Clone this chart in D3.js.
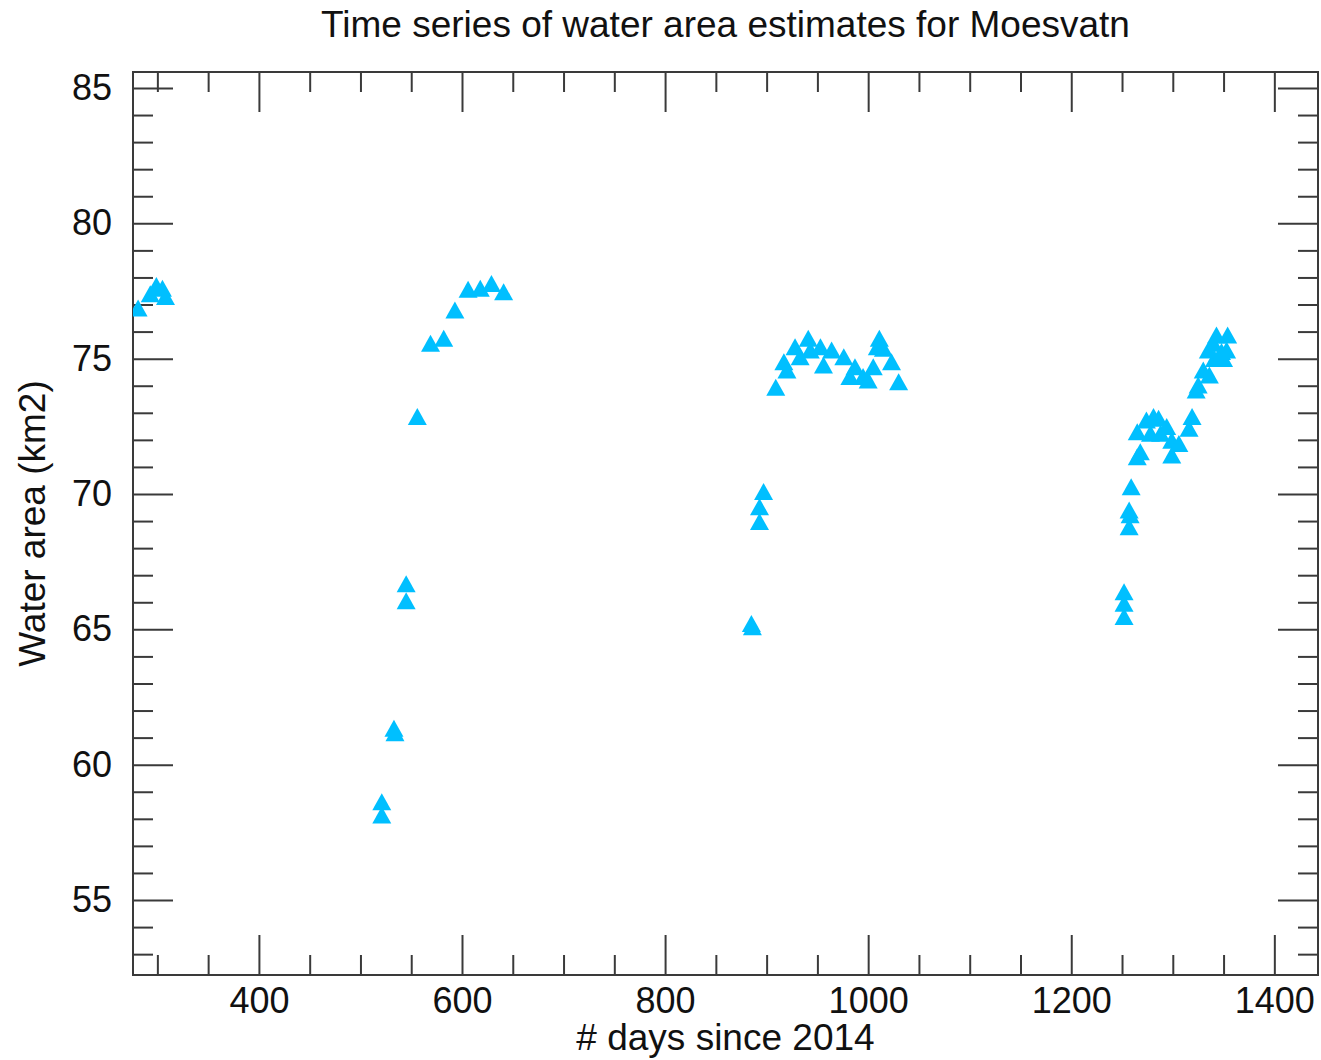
<!DOCTYPE html>
<html>
<head>
<meta charset="utf-8">
<script src="https://cdn.jsdelivr.net/npm/d3@7"></script>
<style>
  body { margin: 0; background: #fff; }
  svg text { font-family: "Liberation Sans", Arial, Helvetica, sans-serif; fill: #111; }
</style>
</head>
<body>
<svg id="chart"></svg>
<script>
const width = 1321;
const height = 1060;
const margin = {top: 72, right: 3, bottom: 85, left: 133};

// water area estimates
const days = [
  281, 293, 299, 305, 308,
  521, 521, 533, 534, 545, 545, 556, 569, 582, 593, 606, 618, 629, 641,
  885, 886, 893, 893, 897, 909, 917, 920, 928, 933, 941, 943, 953, 956, 964,
  976, 982, 987, 995, 1000, 1005, 1009, 1011, 1015, 1023, 1030,
  1252, 1252, 1252, 1257, 1258, 1257, 1259, 1265, 1268, 1265, 1274, 1278,
  1281, 1286, 1288, 1294, 1299, 1299, 1306, 1316, 1319, 1323, 1325, 1330,
  1335, 1336, 1340, 1341, 1343, 1348, 1350, 1353, 1354
];
const areaKm2 = [
  76.87, 77.4, 77.7, 77.6, 77.3,
  58.63, 58.14, 61.35, 61.18, 66.68, 66.06, 72.86, 75.57, 75.75, 76.80, 77.56, 77.60, 77.78, 77.47,
  65.22, 65.10, 68.98, 69.53, 70.09, 73.94, 74.89, 74.58, 75.44, 75.07, 75.75, 75.32, 75.44, 74.77, 75.32,
  75.07, 74.34, 74.70, 74.34, 74.21, 74.70, 75.44, 75.75, 75.38, 74.89, 74.15,
  66.39, 65.96, 65.47, 69.41, 69.23, 68.79, 70.27, 71.38, 71.56, 72.30, 72.73, 72.24,
  72.86, 72.80, 72.24, 72.49, 71.99, 71.44, 71.87, 72.43, 72.86, 73.84, 74.03, 74.58,
  75.32, 74.40, 75.57, 75.01, 75.87, 75.26, 75.01, 75.32, 75.87
];

const xMajorTicks = [400, 600, 800, 1000, 1200, 1400];
const yMajorTicks = [55, 60, 65, 70, 75, 80, 85];
const xMinorTicks = d3.range(300, 1450, 50).filter(d => !xMajorTicks.includes(d));
const yMinorTicks = d3.range(53, 86, 1).filter(d => !yMajorTicks.includes(d));

const points = days.map((d, i) => ({day: d, area: areaKm2[i]}));

const innerW = width - margin.left - margin.right;
const innerH = height - margin.top - margin.bottom;

const xScale = d3.scaleLinear()
    .domain([276, 1443])
    .range([0, innerW]);

const yScale = d3.scaleLinear()
    .domain([52.23, 85.59])
    .range([innerH, 0]);

const svg = d3.select('#chart')
    .attr('width', width)
    .attr('height', height);

const g = svg.append('g')
    .attr('transform', `translate(${margin.left}, ${margin.top})`);

g.append('clipPath')
    .attr('id', 'plot-clip')
  .append('rect')
    .attr('width', innerW)
    .attr('height', innerH);

// tick helper: inward ticks, no domain line
function addAxis(axis, transform, cls) {
    const a = g.append('g')
        .attr('class', cls)
        .attr('transform', transform)
        .call(axis);
    a.select('.domain').remove();
    a.selectAll('line').attr('stroke', '#3a3a3a').attr('stroke-width', 2);
    a.selectAll('text').style('font-size', '36px').attr('fill', '#111');
    return a;
}

// bottom
addAxis(d3.axisBottom(xScale).tickValues(xMinorTicks).tickSize(-20).tickFormat(''),
    `translate(0, ${innerH})`, 'x-minor');
addAxis(d3.axisBottom(xScale).tickValues(xMajorTicks).tickSize(-40).tickPadding(12).tickFormat(d3.format('d')),
    `translate(0, ${innerH})`, 'x-axis');
// top
addAxis(d3.axisTop(xScale).tickValues(xMinorTicks).tickSize(-20).tickFormat(''),
    'translate(0, 0)', 'x-minor-top');
addAxis(d3.axisTop(xScale).tickValues(xMajorTicks).tickSize(-40).tickFormat(''),
    'translate(0, 0)', 'x-major-top');
// left
addAxis(d3.axisLeft(yScale).tickValues(yMinorTicks).tickSize(-20).tickFormat(''),
    'translate(0, 0)', 'y-minor');
addAxis(d3.axisLeft(yScale).tickValues(yMajorTicks).tickSize(-40).tickPadding(21).tickFormat(d3.format('d')),
    'translate(0, 0)', 'y-axis');
// right
addAxis(d3.axisRight(yScale).tickValues(yMinorTicks).tickSize(-20).tickFormat(''),
    `translate(${innerW}, 0)`, 'y-minor-right');
addAxis(d3.axisRight(yScale).tickValues(yMajorTicks).tickSize(-40).tickFormat(''),
    `translate(${innerW}, 0)`, 'y-major-right');

g.append('rect')
    .attr('width', innerW)
    .attr('height', innerH)
    .attr('fill', 'none')
    .attr('stroke', '#3a3a3a')
    .attr('stroke-width', 2);

// triangle markers
const tri = 'M0,-8.5L9.5,8.5L-9.5,8.5Z';

g.append('g')
    .attr('clip-path', 'url(#plot-clip)')
  .selectAll('.pt')
  .data(points)
  .enter()
  .append('path')
    .attr('class', 'pt')
    .attr('d', tri)
    .attr('transform', d => `translate(${xScale(d.day)}, ${yScale(d.area)})`)
    .attr('fill', '#00bfff');

svg.append('text')
    .attr('x', margin.left + innerW / 2)
    .attr('y', 37)
    .style('text-anchor', 'middle')
    .style('font-size', '37px')
    .text('Time series of water area estimates for Moesvatn');

svg.append('text')
    .attr('x', margin.left + innerW / 2)
    .attr('y', 1050)
    .style('text-anchor', 'middle')
    .style('font-size', '37px')
    .text('# days since 2014');

svg.append('text')
    .attr('transform', 'rotate(-90)')
    .attr('x', -(margin.top + innerH / 2))
    .attr('y', 45)
    .style('text-anchor', 'middle')
    .style('font-size', '37px')
    .text('Water area (km2)');
</script>
</body>
</html>
